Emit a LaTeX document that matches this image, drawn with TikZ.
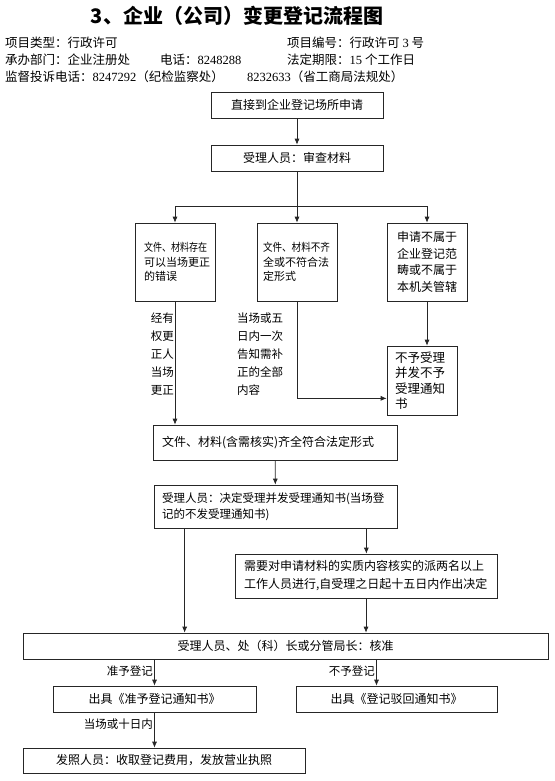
\documentclass[tikz,border=0pt]{standalone}
\usepackage{fontspec}
\setmainfont{Noto Sans CJK SC}
\newfontfamily\numfont{Liberation Serif}
\usetikzlibrary{arrows.meta,calc,positioning}

\begin{document}
\begin{tikzpicture}[x=1pt, y=-1pt,
    box/.style={draw=black!85, line width=0.7pt, align=center, inner sep=3pt,
      font=\fontsize{12}{16}\selectfont},
    leftbox/.style={box, align=left, inner xsep=9pt},
    narrowbox/.style={box, align=left, font=\fontsize{11}{14.5}\selectfont},
    note/.style={inner sep=0pt, font=\fontsize{11.5}{18}\selectfont},
    headline/.style={anchor=west, inner sep=0pt, font=\fontsize{12.5}{15}\selectfont},
    arrow/.style={-{Latex[length=6pt,width=5pt]}, line width=0.7pt, draw=black!85}
  ]
  \useasboundingbox (0,0) rectangle (554,781);

  % heading
  \node[font=\fontsize{20}{24}\selectfont\bfseries, inner sep=0pt] (title) at (237,16)
    {3、企业（公司）变更登记流程图};
  \node[headline] (kind) at (5,43) {项目类型：行政许可};
  \node[headline] (number) at (287,43) {项目编号：行政许可 {\numfont 3} 号};
  \node[headline] (office) at (5,60) {承办部门：企业注册处};
  \node[headline] (phone) at (160,60) {电话：{\numfont 8248288}};
  \node[headline] (limit) at (287,60) {法定期限：{\numfont 15} 个工作日};
  \node[headline] (watch) at (5,77) {监督投诉电话：{\numfont 8247292}（纪检监察处）};
  \node[headline] (law) at (247,77) {{\numfont 8232633}（省工商局法规处）};

  % application and check
  \node[box, minimum width=172pt, minimum height=26pt] (apply) at (297,105)
    {直接到企业登记场所申请};
  \node[box, minimum width=172pt, minimum height=26pt] (check) at (297,158)
    {受理人员：审查材料};
  \coordinate (split) at (297,206);

  \node[narrowbox, text width=62pt, inner xsep=9pt, minimum height=78pt] (fixable) at (175,262)
    {\scalebox{0.82}[1]{文件、材料存在}\\可以当场更正\\的错误};
  \node[narrowbox, text width=68pt, inner xsep=6pt, minimum height=78pt] (incomplete) at (297,262)
    {\scalebox{0.87}[1]{文件、材料不齐}\\全或不符合法\\定形式};
  \node[box, text width=68pt, inner xsep=6pt, minimum height=78pt,
    font=\fontsize{12}{16.7}\selectfont] (outside) at (427,262)
    {申请不属于\\企业登记范\\畴或不属于\\本机关管辖};
  \node[box, align=left, text width=54pt, inner xsep=8pt, minimum height=69pt,
    font=\fontsize{12.5}{15.5}\selectfont] (reject) at (422,380.5)
    {不予受理\\并发不予\\受理通知\\书};

  \node[note, align=right, anchor=east] (fixnote) at (174,354)
    {经有\\权更\\正人\\当场\\更正};
  \node[note, align=left, anchor=west] (tellnote) at (237,354)
    {当场或五\\日内一次\\告知需补\\正的全部\\内容};

  % acceptance
  \node[leftbox, text width=226pt, minimum height=35pt] (complete) at (275,442.5)
    {文件、材料(含需核实)齐全符合法定形式};
  \node[leftbox, text width=227pt, inner xsep=8pt, minimum height=43pt,
    font=\fontsize{11.5}{16}\selectfont] (accept) at (275.5,506.5)
    {受理人员：决定受理并发受理通知书(当场登\\记的不发受理通知书)};
  \node[leftbox, text width=244pt, minimum height=44pt,
    font=\fontsize{12}{18}\selectfont] (verify) at (366,576)
    {需要对申请材料的实质内容核实的派两名以上\\工作人员进行,自受理之日起十五日内作出决定};

  % decision
  \node[box, minimum width=525pt, minimum height=26pt] (approve) at (285.5,646)
    {受理人员、处（科）长或分管局长：核准};
  \node[box, minimum width=203pt, minimum height=26pt] (grant) at (154.5,699)
    {出具《准予登记通知书》};
  \node[box, minimum width=201pt, minimum height=26pt] (refuse) at (396.5,699)
    {出具《登记驳回通知书》};
  \node[box, minimum width=282pt, minimum height=25pt] (licence) at (164,760.5)
    {发照人员：收取登记费用，发放营业执照};

  \node[note, anchor=east] (grantnote) at (153,671) {准予登记};
  \node[note, anchor=east] (refusenote) at (375,671) {不予登记};
  \node[note, anchor=east] (daysnote) at (153,724) {当场或十日内};

  \draw[arrow] (apply) -- (check);
  \draw[arrow] (check) -- (incomplete);
  \draw[arrow] (split) -| (fixable);
  \draw[arrow] (split) -| (outside);
  \draw[arrow] (fixable) -- (fixable |- complete.north);
  \draw[arrow] (incomplete.south) |- ([yshift=17pt]reject.south west);
  \draw[arrow] (outside) -- (outside |- reject.north);
  \draw[arrow] (complete) -- (accept);
  \draw[arrow] ([xshift=31pt]accept.south west) -- ([xshift=31pt]accept.south west |- approve.north);
  \draw[arrow] ([xshift=-31pt]accept.south east) -- ([xshift=-31pt]accept.south east |- verify.north);
  \draw[arrow] (verify) -- (verify |- approve.north);
  \draw[arrow] (grant |- approve.south) -- (grant);
  \draw[arrow] ([xshift=-20pt]refuse.north |- approve.south) -- ([xshift=-20pt]refuse.north);
  \draw[arrow] (grant) -- (grant |- licence.north);
\end{tikzpicture}
\end{document}
